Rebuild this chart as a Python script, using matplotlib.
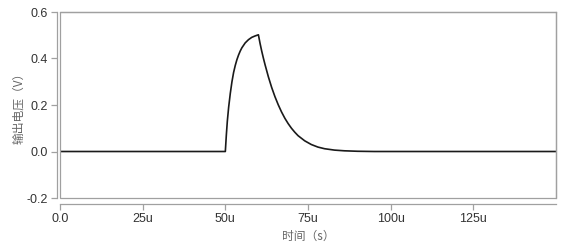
import matplotlib
matplotlib.use("Agg")
import matplotlib.pyplot as plt
from matplotlib.patches import Rectangle

plt.rcParams['font.family'] = ['Liberation Sans', 'Noto Sans CJK SC', 'DejaVu Sans']

# time in microseconds, voltage in V
t_us = [0, 50.0, 50.3, 50.6, 51.0, 51.5, 52.0, 52.5, 53.0, 53.5, 54.0, 54.5, 55.0, 56.0, 57.0,
        58.0, 59.0, 60.0,
        60.5, 61.0, 61.5, 62.0, 63.0, 64.0, 65.0, 66.0, 67.0, 68.0, 69.0, 70.0, 71.0, 72.0,
        74.0, 76.0, 78.0, 80.0, 83.0, 86.0, 90.0, 95.0, 100.0, 150.0]
v_out = [0.0, 0.0, 0.07, 0.13, 0.19, 0.25, 0.30, 0.34, 0.37, 0.395, 0.415, 0.432, 0.446, 0.467, 0.481,
         0.491, 0.497, 0.502,
         0.465, 0.432, 0.402, 0.374, 0.322, 0.276, 0.236, 0.201, 0.170, 0.143, 0.120, 0.100, 0.083, 0.068,
         0.046, 0.030, 0.019, 0.012, 0.006, 0.003, 0.001, 0.0, 0.0, 0.0]

xticks = [0, 25, 50, 75, 100, 125]
xtick_labels = ["0.0", "25u", "50u", "75u", "100u", "125u"]
yticks = [-0.2, 0.0, 0.2, 0.4, 0.6]
ytick_labels = ["-0.2", "0.0", "0.2", "0.4", "0.6"]

fig = plt.figure(figsize=(5.70, 2.47), dpi=100)
fig.patch.set_facecolor('white')
ax = fig.add_axes([60/570, 1-198/247, (556-60)/570, (198-12)/247])

frame_c = '#a0a0a0'
ax.plot(t_us, v_out, color='#1a1a1a', lw=1.2)

ax.set_xlim(0, 150)
ax.set_ylim(-0.2, 0.6)
ax.set_xticks(xticks)
ax.set_xticklabels(xtick_labels)
ax.set_yticks(yticks)
ax.set_yticklabels(ytick_labels)

for s in ['left', 'bottom', 'top', 'right']:
    ax.spines[s].set_color(frame_c)
    ax.spines[s].set_linewidth(0.9)
ax.spines['left'].set_position(('outward', 2))
ax.spines['bottom'].set_position(('outward', 4))
ax.add_patch(Rectangle((0, 0), 1, 1, transform=ax.transAxes, fill=False,
                       edgecolor=frame_c, lw=0.9, clip_on=False, zorder=5))

ax.tick_params(axis='both', direction='out', length=4, width=0.9, color=frame_c,
               labelsize=9, labelcolor='#333333', pad=3)

cjk = ['Noto Sans CJK SC', 'DejaVu Sans']
ax.set_xlabel("时间（s）", fontsize=8.5, color='#666666', labelpad=3, family=cjk)
ax.set_ylabel("输出电压（V）", fontsize=8.5, color='#666666', labelpad=1, family=cjk)

fig.savefig("out.png", dpi=100, facecolor='white')
